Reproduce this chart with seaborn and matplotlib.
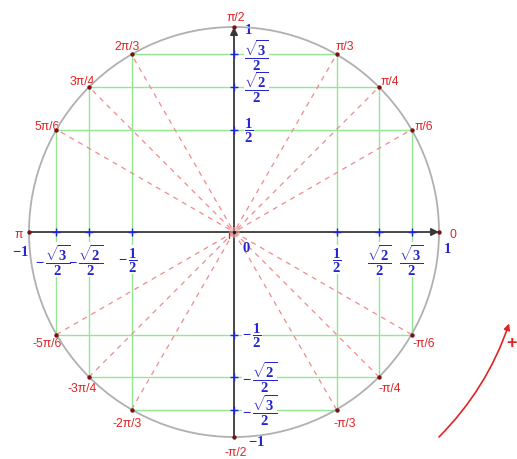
import numpy as np
import pandas as pd
import matplotlib
matplotlib.use("Agg")
import matplotlib.pyplot as plt
import seaborn as sns
from matplotlib.patches import Circle, FancyArrowPatch

# angles on the unit circle (degrees) and their labels
angle_deg = [0, 30, 45, 60, 90, 120, 135, 150, 180, -150, -135, -120, -90, -60, -45, -30]
angle_labels = ['0', 'π/6', 'π/4', 'π/3', 'π/2', '2π/3', '3π/4', '5π/6', 'π',
                '-5π/6', '-3π/4', '-2π/3', '-π/2', '-π/3', '-π/4', '-π/6']
# dashed diameters through the origin
diam_deg = [30, 45, 60, 120, 135, 150]
# special values on the axes
tick_vals = [1 / 2, np.sqrt(2) / 2, np.sqrt(3) / 2]
pos_labels = [r'$\dfrac{1}{2}$', r'$\dfrac{\sqrt{2}}{2}$', r'$\dfrac{\sqrt{3}}{2}$']
neg_labels = [r'$-\,\dfrac{1}{2}$', r'$-\,\dfrac{\sqrt{2}}{2}$', r'$-\,\dfrac{\sqrt{3}}{2}$']

RED = '#e02424'
BLUE = '#2424d0'
GREEN = '#94e894'
DOT = '#7a1212'

sns.set_theme(style='white')
plt.rcParams['font.family'] = ['Liberation Sans', 'DejaVu Sans']
plt.rcParams['mathtext.fontset'] = 'custom'
plt.rcParams['mathtext.rm'] = 'Liberation Serif:bold'
plt.rcParams['mathtext.it'] = 'Liberation Serif:bold'
plt.rcParams['mathtext.bf'] = 'Liberation Serif:bold'

fig = plt.figure(figsize=(5.17, 4.6), dpi=100)
ax = fig.add_axes([0, 0, 1, 1])

df = pd.DataFrame({'deg': angle_deg, 'label': angle_labels})
df['x'] = np.cos(np.radians(df['deg']))
df['y'] = np.sin(np.radians(df['deg']))

# circle (kept above the white label boxes)
ax.add_patch(Circle((0, 0), 1, fill=False, color='#b0b0b0', lw=1.3, zorder=8))

# green projection lines
for v in tick_vals:
    w = np.sqrt(1 - v ** 2)
    for s in (1, -1):
        ax.plot([-w, w], [s * v, s * v], color=GREEN, lw=1, zorder=1)
        ax.plot([s * v, s * v], [-w, w], color=GREEN, lw=1, zorder=1)

# red dashed diameters
for d in diam_deg:
    c, s = np.cos(np.radians(d)), np.sin(np.radians(d))
    ax.plot([-c, c], [-s, s], color='#f08a8a', lw=0.9, ls=(0, (4, 4)), zorder=2)

# axes with arrows
for xy, xytext in [((1, 0), (-1, 0)), ((0, 1), (0, -1))]:
    ax.annotate('', xy=xy, xytext=xytext,
                arrowprops=dict(arrowstyle='-|>', color='#383838', lw=1.3, mutation_scale=11,
                                shrinkA=0, shrinkB=0), zorder=3)

# blue tick crosses
tx = tick_vals + [-v for v in tick_vals]
ax.scatter(tx, [0] * len(tx), marker='+', color=BLUE, s=30, lw=1, zorder=4)
ax.scatter([0] * len(tx), tx, marker='+', color=BLUE, s=30, lw=1, zorder=4)

# origin
ax.scatter([0], [0], s=60, color='#f4a0a0', alpha=0.6, lw=0, zorder=4)
ax.scatter([0], [0], s=6, color='#202020', lw=0, zorder=5)
ax.plot([-0.022, -0.022], [-0.005, -0.03], color=RED, lw=1, zorder=5)

# points on the circle
sns.scatterplot(data=df, x='x', y='y', color=DOT, s=10, linewidth=0, ax=ax, zorder=9, legend=False)
ax.set_xlim(-1.1415, 1.3805)
ax.set_ylim(-1.1073, 1.1366)
ax.set_aspect('equal')
ax.axis('off')

# angle labels
for _, r in df.iterrows():
    ax.text(1.06 * r['x'] + 0.008, 1.06 * r['y'] - 0.012, r['label'], color=RED, fontsize=8.7,
            ha='center', va='center', zorder=7)

bb = dict(facecolor='white', edgecolor='none', pad=0)
fs = 10.5
for v, lp, ln in zip(tick_vals, pos_labels, neg_labels):
    # y-axis
    ax.text(0.05, v, lp, color=BLUE, fontsize=fs, ha='left', va='center', bbox=bb, zorder=7)
    ax.text(0.04, -v, ln, color=BLUE, fontsize=fs, ha='left', va='center', bbox=bb, zorder=7)
    # x-axis
    ax.text(v, -0.135, lp, color=BLUE, fontsize=fs, ha='center', va='center', bbox=bb, zorder=7)
    ax.text(-v - 0.018, -0.135, ln, color=BLUE, fontsize=fs, ha='center', va='center', bbox=bb, zorder=7)

ax.text(0.05, 0.99, r'$1$', color=BLUE, fontsize=fs, ha='left', va='center', zorder=7)
ax.text(0.07, -1.02, r'$-1$', color=BLUE, fontsize=fs, ha='left', va='center', zorder=7)
ax.text(1.02, -0.078, r'$1$', color=BLUE, fontsize=fs, ha='left', va='center', zorder=7)
ax.text(-1.044, -0.093, r'$-1$', color=BLUE, fontsize=fs, ha='center', va='center', zorder=7)
ax.text(0.058, -0.073, r'$0$', color=BLUE, fontsize=fs, ha='center', va='center', zorder=7)

# direction arrow (positive orientation)
p1 = (np.sqrt(2) * np.cos(np.radians(-45)), np.sqrt(2) * np.sin(np.radians(-45)))
p2 = (np.sqrt(2) * np.cos(np.radians(-18.4)), np.sqrt(2) * np.sin(np.radians(-18.4)))
ax.add_patch(FancyArrowPatch(p1, p2, connectionstyle='arc3,rad=0.116', arrowstyle='-|>',
                             mutation_scale=9, color=RED, lw=1.2, shrinkA=0, shrinkB=0, zorder=7))
ax.text(1.352, -0.537, '+', color=RED, fontsize=13, fontweight='bold', ha='center', va='center', zorder=7)

fig.savefig('out.png', dpi=100, facecolor='white')
